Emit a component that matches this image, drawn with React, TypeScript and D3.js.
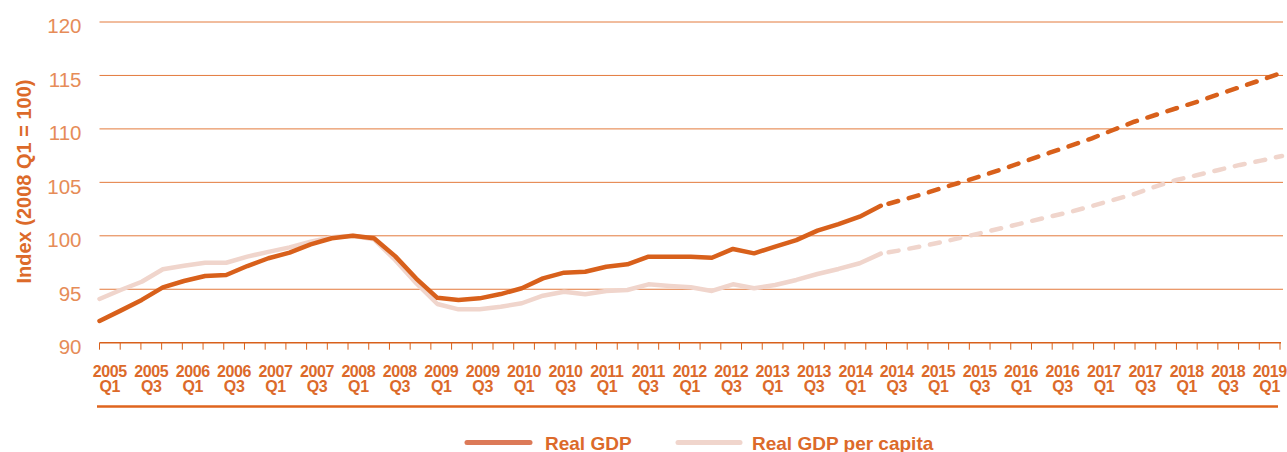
import React from "react";
import * as d3 from "d3";

const quarters: string[] = [];
for (let y = 2005; y <= 2019; y++) {
  for (let q = 1; q <= 4; q++) {
    if (y === 2019 && q > 1) break;
    quarters.push(`${y} Q${q}`);
  }
}

const realGDP = [
  92.03, 93.0, 94.0, 95.18, 95.77, 96.24, 96.33, 97.17, 97.9, 98.42, 99.2, 99.77,
  100.0, 99.77, 98.1, 96.0, 94.2, 94.0, 94.15, 94.55, 95.09, 96.02, 96.55, 96.64,
  97.1, 97.33, 98.05, 98.05, 98.05, 97.95, 98.77, 98.36, 98.98, 99.6, 100.48, 101.1,
  101.79, 102.8, 103.35, 103.9, 104.54, 105.13, 105.75, 106.4, 107.09, 107.77, 108.43,
  109.12, 109.9, 110.67, 111.3, 111.93, 112.55, 113.24, 113.9, 114.57, 115.26,
];

const realGDPPerCapita = [
  94.09, 94.93, 95.7, 96.87, 97.2, 97.48, 97.48, 98.05, 98.5, 98.92, 99.45, 99.86,
  100.0, 99.67, 97.74, 95.56, 93.62, 93.12, 93.12, 93.37, 93.69, 94.4, 94.77, 94.53,
  94.84, 94.93, 95.46, 95.3, 95.18, 94.84, 95.46, 95.09, 95.4, 95.87, 96.43, 96.9,
  97.43, 98.33, 98.67, 99.05, 99.45, 99.92, 100.38, 100.85, 101.32, 101.79, 102.25,
  102.79, 103.35, 103.9, 104.6, 105.22, 105.69, 106.16, 106.63, 107.03, 107.47,
];

const projectionStart = 37; // 2014 Q2
const yTicks = [90, 95, 100, 105, 110, 115, 120];
const seriesNames = ["Real GDP", "Real GDP per capita"];

const C_DARK = "#d8601b";
const C_LIGHT = "#f0d5cc";
const C_GRID = "#e37a3c";
const C_TEXT = "#dc6a2a";

export default function App() {
  const W = 1287;
  const H = 452;
  const left = 99.5;
  const right = 1280;
  const top = 22;
  const bottom = 342.7;

  const y = d3.scaleLinear().domain([90, 120]).range([bottom, top]);
  const xBand = d3.scaleBand<string>().domain(quarters).range([left, right]).padding(0);
  const xPt = d3.scalePoint<string>().domain(quarters).range([left, 1282]);

  const mk = (vals: number[], from: number, to: number) =>
    d3
      .line<[string, number]>()
      .x((d) => xPt(d[0]) as number)
      .y((d) => y(d[1]))(
      vals.slice(from, to + 1).map((v, i) => [quarters[from + i], v] as [string, number])
    ) as string;

  const last = quarters.length - 1;
  const bw = xBand.bandwidth();
  const tickXs = quarters.map((q) => xBand(q) as number).concat([right]);

  return (
    <svg width={W} height={H} style={{ position: "absolute", left: 0, top: 0 }} fontFamily="Liberation Sans, Arial, sans-serif">
      {/* grid */}
      {yTicks.filter((t) => t !== 90).map((t) => (
        <line key={t} x1={left} x2={1283} y1={y(t)} y2={y(t)} stroke={C_GRID} strokeWidth={1} />
      ))}
      {yTicks.map((t) => (
        <text key={"l" + t} x={81.5} y={y(t) + 11.3} textAnchor="end" fontSize={20.5} fill="#e68c58">
          {t}
        </text>
      ))}
      <text
        transform={`translate(31,181.5) rotate(-90)`}
        textAnchor="middle"
        fontSize={20}
        fontWeight={700}
        fill={C_TEXT}
      >
        Index (2008 Q1 = 100)
      </text>

      {/* x axis */}
      <line x1={left} x2={1281} y1={bottom} y2={bottom} stroke={C_DARK} strokeWidth={1.5} />
      {tickXs.map((tx, i) => (
        <line key={"t" + i} x1={tx} x2={tx} y1={bottom} y2={bottom + 7} stroke={C_DARK} strokeWidth={1} />
      ))}
      {quarters.map((q, i) =>
        i % 2 === 0 ? (
          <text key={"x" + q} textAnchor="middle" fontSize={16} fontWeight={700} fill={C_TEXT} letterSpacing={-0.4}>
            <tspan x={(xBand(q) as number) + bw / 2} y={376.7}>
              {q.split(" ")[0]}
            </tspan>
            <tspan x={(xBand(q) as number) + bw / 2} y={392.3}>
              {q.split(" ")[1]}
            </tspan>
          </text>
        ) : null
      )}

      {/* series */}
      <path d={mk(realGDPPerCapita, 0, projectionStart)} fill="none" stroke={C_LIGHT} strokeWidth={4.5} strokeLinecap="round" strokeLinejoin="round" />
      <path d={mk(realGDPPerCapita, projectionStart, last)} fill="none" stroke={C_LIGHT} strokeWidth={4.5} strokeLinecap="round" strokeDasharray="10 11" strokeDashoffset={-8} />
      <path d={mk(realGDP, 0, projectionStart)} fill="none" stroke={C_DARK} strokeWidth={4.5} strokeLinecap="round" strokeLinejoin="round" />
      <path d={mk(realGDP, projectionStart, last)} fill="none" stroke={C_DARK} strokeWidth={4.5} strokeLinecap="round" strokeDasharray="10 11" strokeDashoffset={-8} />

      {/* bottom rule */}
      <line x1={97} x2={1278} y1={406.5} y2={406.5} stroke="#df651e" strokeWidth={2.5} />

      {/* legend */}
      <line x1={467} x2={530} y1={442.5} y2={442.5} stroke="#dc7a58" strokeWidth={5} strokeLinecap="round" />
      <text x={545} y={450} fontSize={19} fontWeight={700} fill={C_TEXT}>{seriesNames[0]}</text>
      <line x1={678} x2={740} y1={442.5} y2={442.5} stroke={C_LIGHT} strokeWidth={5} strokeLinecap="round" />
      <text x={752} y={450} fontSize={19} fontWeight={700} fill={C_TEXT}>{seriesNames[1]}</text>
    </svg>
  );
}
